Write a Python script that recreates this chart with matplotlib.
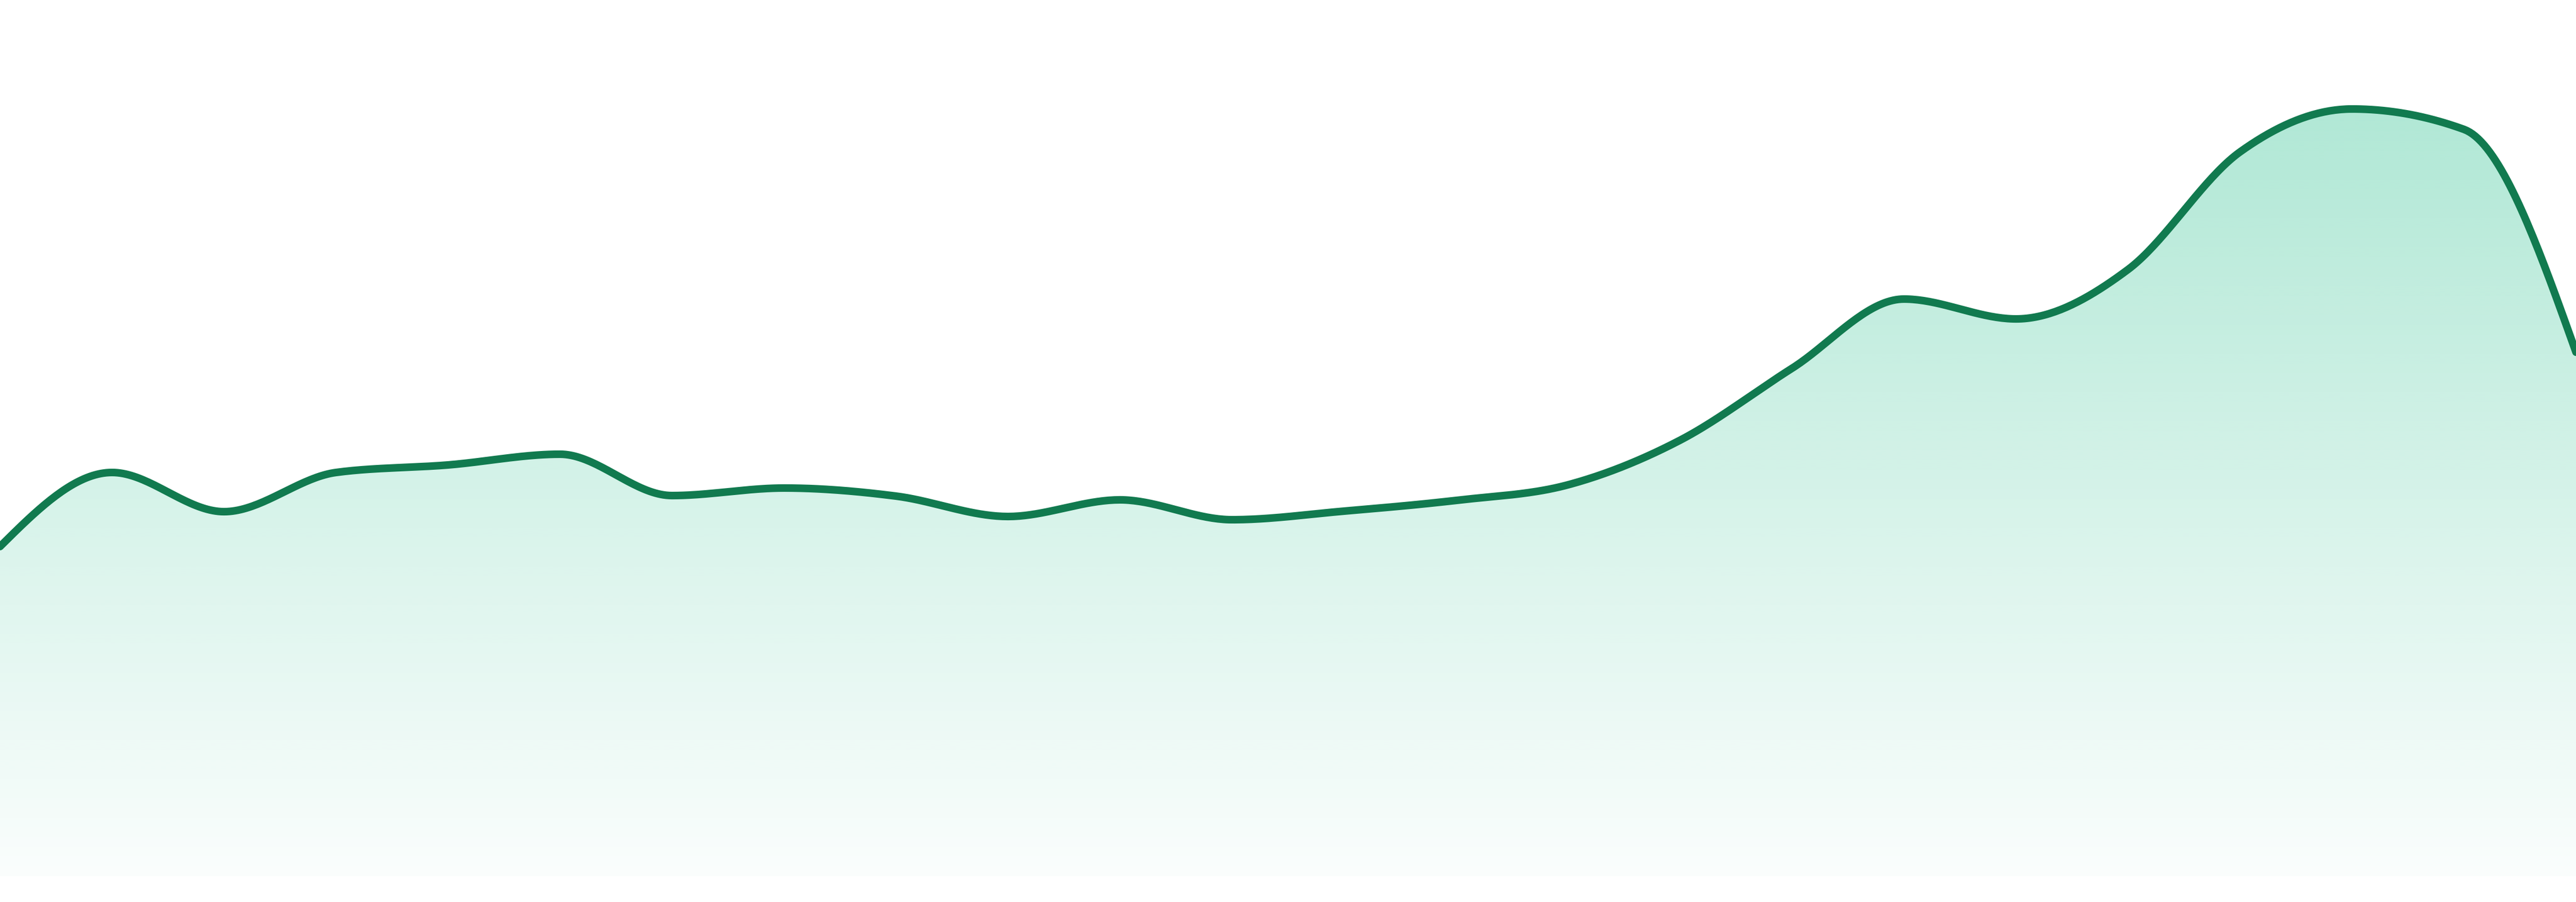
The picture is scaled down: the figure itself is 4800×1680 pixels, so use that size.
import numpy as np
import matplotlib
matplotlib.use("Agg")
import matplotlib.pyplot as plt
from matplotlib.patches import Polygon

# ---- data ----
x_index = list(range(24))
values = [61.4, 75.2, 67.9, 75.2, 76.6, 78.6, 70.9, 72.3, 70.8, 67.0, 70.1, 66.4,
          68.0, 70.0, 72.9, 81.2, 94.6, 107.5, 103.8, 113.0, 134.9, 142.9, 139.1, 97.6]

line_color = "#117a4f"
fill_rgb = (16 / 255, 185 / 255, 129 / 255)


def monotone_x(xs, ys, n=40):
    """d3.curveMonotoneX style interpolation (Steffen slopes)."""
    xs = np.asarray(xs, float)
    ys = np.asarray(ys, float)
    h = np.diff(xs)
    s = np.diff(ys) / h
    m = len(xs)
    t = np.zeros(m)
    for i in range(1, m - 1):
        h0, h1 = h[i - 1], h[i]
        s0, s1 = s[i - 1], s[i]
        p = (s0 * h1 + s1 * h0) / (h0 + h1)
        t[i] = (np.sign(s0) + np.sign(s1)) * min(abs(s0), abs(s1), 0.5 * abs(p))
    t[0] = (3 * s[0] - t[1]) / 2
    t[-1] = (3 * s[-1] - t[-2]) / 2
    px, py = [], []
    for i in range(m - 1):
        u = np.linspace(0, 1, n, endpoint=(i == m - 2))
        dx = h[i]
        h00 = 2 * u**3 - 3 * u**2 + 1
        h10 = u**3 - 2 * u**2 + u
        h01 = -2 * u**3 + 3 * u**2
        h11 = u**3 - u**2
        px.append(xs[i] + u * dx)
        py.append(h00 * ys[i] + h10 * dx * t[i] + h01 * ys[i + 1] + h11 * dx * t[i + 1])
    return np.concatenate(px), np.concatenate(py)


fig = plt.figure(figsize=(16, 5.6), dpi=300)
ax = fig.add_axes([0, 0, 1, 1])
ax.set_xlim(0, 23)
ax.set_ylim(-4.8, 163.2)
ax.axis("off")

sx, sy = monotone_x(x_index, values)

# gradient fill
top = max(values)
ngrad = 256
alphas = np.linspace(0.33, 0.02, ngrad)[:, None]
img = np.zeros((ngrad, 2, 4))
img[..., 0] = fill_rgb[0]
img[..., 1] = fill_rgb[1]
img[..., 2] = fill_rgb[2]
img[..., 3] = alphas
poly_pts = np.column_stack([np.concatenate([sx, [sx[-1], sx[0]]]),
                            np.concatenate([sy, [0, 0]])])
poly = Polygon(poly_pts, closed=True, facecolor="none", edgecolor="none")
ax.add_patch(poly)
im = ax.imshow(img, extent=[0, 23, 0, top], origin="upper", aspect="auto",
               interpolation="bilinear", zorder=1)
im.set_clip_path(poly)

ax.plot(sx, sy, color=line_color, lw=3.4, solid_capstyle="round",
        solid_joinstyle="round", zorder=3)

fig.savefig("out.png", dpi=300)
